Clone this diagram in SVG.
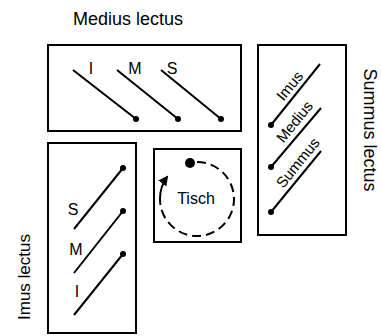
<svg xmlns="http://www.w3.org/2000/svg" width="381" height="336" viewBox="0 0 381 336">
<defs>
<style>
.box{fill:#fff;stroke:#000;stroke-width:2}
.ln{stroke:#000;stroke-width:2;fill:none}
.dot{fill:#000}
.t{font-family:"Liberation Sans",Arial,sans-serif;fill:#000}
.big{font-size:18px}
.mid{font-size:16px}
.sm{font-size:15px}
</style>
<marker id="ah" viewBox="0 0 10 10" refX="8" refY="5" markerWidth="5" markerHeight="5" orient="auto">
<path d="M0,0 L10,5 L0,10 z" fill="#000"/>
</marker>
</defs>
<rect width="381" height="336" fill="#fff"/>
<g id="medius">
<rect class="box" x="48" y="45" width="193" height="86"/>
<text class="t mid" x="91" y="74" text-anchor="middle">I</text>
<text class="t mid" x="135" y="74" text-anchor="middle">M</text>
<text class="t mid" x="172" y="74" text-anchor="middle">S</text>
</g>
<g id="summus">
<rect class="box" x="258" y="45" width="88" height="190"/>
<text class="t sm" transform="translate(293.7,89) rotate(-51)" text-anchor="middle">Imus</text>
<text class="t sm" transform="translate(298.6,125) rotate(-51)" text-anchor="middle">Medius</text>
<text class="t sm" transform="translate(301.8,166) rotate(-51)" text-anchor="middle">Summus</text>
</g>
<g id="imus">
<rect class="box" x="48" y="143" width="88" height="190"/>
<text class="t mid" x="73" y="215" text-anchor="middle">S</text>
<text class="t mid" x="76" y="255" text-anchor="middle">M</text>
<text class="t mid" x="77" y="297" text-anchor="middle">I</text>
</g>
<g id="tisch">
<rect class="box" x="154" y="149" width="87" height="93"/>
<text class="t mid" x="196" y="204" text-anchor="middle">Tisch</text>
<circle class="dot" cx="190" cy="163" r="5"/>
</g>
<g id="label-medius"><text class="t big" x="128" y="25" text-anchor="middle">Medius lectus</text></g>
<g id="label-summus"><text class="t big" transform="translate(364,130) rotate(90)" text-anchor="middle">Summus lectus</text></g>
<g id="label-imus"><text class="t" font-size="17" transform="translate(30,277) rotate(-90)" text-anchor="middle">Imus lectus</text></g>
<g id="connectors">
<line class="ln" x1="73" y1="70" x2="136" y2="119"/>
<line class="ln" x1="117" y1="70" x2="178" y2="119"/>
<line class="ln" x1="161" y1="70" x2="221" y2="119"/>
<circle class="dot" cx="136" cy="119" r="3"/>
<circle class="dot" cx="178" cy="119" r="3"/>
<circle class="dot" cx="221" cy="119" r="3"/>
<line class="ln" x1="320" y1="64" x2="271" y2="125"/>
<line class="ln" x1="321" y1="108" x2="271" y2="167"/>
<line class="ln" x1="321" y1="151" x2="271" y2="212"/>
<circle class="dot" cx="271" cy="125" r="3"/>
<circle class="dot" cx="271" cy="167" r="3"/>
<circle class="dot" cx="271" cy="212" r="3"/>
<line class="ln" x1="74" y1="229" x2="123" y2="168"/>
<line class="ln" x1="74" y1="273" x2="123" y2="211"/>
<line class="ln" x1="74" y1="315" x2="123" y2="254"/>
<circle class="dot" cx="123" cy="168" r="3"/>
<circle class="dot" cx="123" cy="211" r="3"/>
<circle class="dot" cx="123" cy="254" r="3"/>
<path class="ln" stroke-dasharray="9,5" d="M197,162 A37,37 0 1 1 160,199"/>
<path class="ln" marker-end="url(#ah)" d="M160,199 A37,37 0 0 1 167,177"/>
</g>
</svg>
